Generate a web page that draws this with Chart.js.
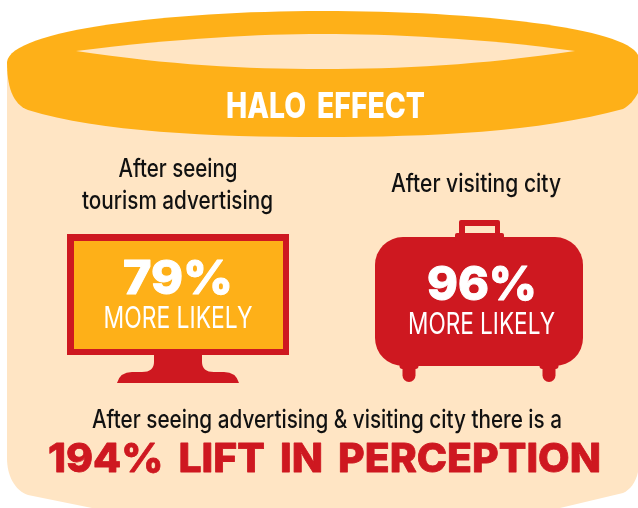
<!DOCTYPE html>
<html>
<head>
<meta charset="utf-8">
<title>Halo effect</title>
<script src="https://cdn.jsdelivr.net/npm/chart.js@4"></script>
<style>
  html, body { margin: 0; padding: 0; background: #fff; }
  canvas { display: block; }
</style>
</head>
<body>
<canvas id="chart" width="638" height="508"></canvas>
<script>
// data
var categories = [
  ["After seeing", "tourism advertising"],
  ["After visiting city"]
];
var likelyValues = [79, 96];
var likelyLabel = "MORE LIKELY";
var liftValue = 194;
var liftLabel = "LIFT IN PERCEPTION";
var chartTitle = "HALO EFFECT";
var footerLine = "After seeing advertising & visiting city there is a";

var ORANGE = '#feb018';
var PEACH = '#ffe5c4';
var RED = '#ce1820';

var BODY_FONT = 'Inter, "Liberation Sans"';

// Draw text so that it fills exactly the given width (the original face is condensed).
// bold > 0 thickens the letters with an outline of that width.
function fitText(ctx, text, cx, baseline, width, font, color, bold, wordGap) {
  ctx.save();
  ctx.font = font;
  ctx.fillStyle = color;
  ctx.textAlign = 'center';
  ctx.textBaseline = 'alphabetic';
  if (wordGap) ctx.wordSpacing = wordGap + 'px';
  var w = ctx.measureText(text).width;
  ctx.translate(cx, baseline);
  ctx.scale(width / w, 1);
  ctx.fillText(text, 0, 0);
  if (bold) {
    ctx.strokeStyle = color;
    ctx.lineWidth = bold;
    ctx.lineJoin = 'round';
    ctx.strokeText(text, 0, 0);
  }
  ctx.restore();
}

function drawBackdrop(ctx) {
  // peach body
  ctx.fillStyle = PEACH;
  ctx.beginPath();
  ctx.moveTo(7, 70);
  ctx.lineTo(638, 70);
  ctx.lineTo(638, 472);
  ctx.bezierCurveTo(636, 482, 630, 490, 623, 493);
  ctx.lineTo(560, 508);
  ctx.lineTo(92, 508);
  ctx.lineTo(28, 495);
  ctx.bezierCurveTo(14, 490, 7, 475, 7, 458);
  ctx.closePath();
  ctx.fill();

  // the halo ring
  ctx.fillStyle = ORANGE;
  ctx.beginPath();
  ctx.moveTo(7, 62);
  ctx.bezierCurveTo(10, 30, 170, 11, 322, 11);
  ctx.bezierCurveTo(480, 11, 625, 28, 638, 55);
  ctx.lineTo(638, 93);
  ctx.bezierCurveTo(634, 100, 630, 105, 623, 109);
  ctx.bezierCurveTo(540, 132, 430, 137, 322, 137);
  ctx.bezierCurveTo(210, 137, 100, 132, 28, 110);
  ctx.bezierCurveTo(12, 104, 7, 85, 7, 62);
  ctx.closePath();
  ctx.fill();

  ctx.fillStyle = PEACH;
  ctx.beginPath();
  ctx.moveTo(76, 51);
  ctx.bezierCurveTo(180, 38, 260, 34, 322, 34);
  ctx.bezierCurveTo(390, 34, 480, 38, 575, 51);
  ctx.bezierCurveTo(480, 65, 400, 69, 322, 69);
  ctx.bezierCurveTo(245, 69, 170, 65, 76, 51);
  ctx.closePath();
  ctx.fill();
}

function drawMonitor(ctx, cx) {
  ctx.save();
  ctx.translate(cx, 0);
  ctx.fillStyle = RED;
  ctx.fillRect(-111, 234, 222, 121);
  // stand
  ctx.beginPath();
  ctx.moveTo(-24, 355);
  ctx.lineTo(-24, 362);
  ctx.quadraticCurveTo(-24, 372, -36, 372);
  ctx.lineTo(-46, 372);
  ctx.quadraticCurveTo(-58, 372, -61, 383);
  ctx.lineTo(61, 383);
  ctx.quadraticCurveTo(58, 372, 46, 372);
  ctx.lineTo(36, 372);
  ctx.quadraticCurveTo(24, 372, 24, 362);
  ctx.lineTo(24, 355);
  ctx.closePath();
  ctx.fill();
  ctx.fillStyle = ORANGE;
  ctx.fillRect(-104, 241, 209, 108);
  ctx.restore();
}

function drawSuitcase(ctx, cx) {
  ctx.save();
  ctx.translate(cx, 0);
  ctx.fillStyle = RED;
  // body
  ctx.beginPath();
  ctx.roundRect(-105, 237, 208, 129, 28);
  ctx.fill();
  // collar and handle
  ctx.beginPath();
  ctx.roundRect(-25, 233, 49, 8, 2);
  ctx.fill();
  ctx.beginPath();
  ctx.roundRect(-21, 220, 41, 16, 2);
  ctx.fill();
  ctx.fillStyle = PEACH;
  ctx.fillRect(-15, 226, 30, 7);
  // wheels
  ctx.fillStyle = RED;
  [-71, 69].forEach(function (dx) {
    ctx.beginPath();
    ctx.roundRect(dx - 9.5, 362, 19, 7, 3);
    ctx.fill();
    ctx.beginPath();
    ctx.roundRect(dx - 6.5, 364, 13, 18, [0, 0, 6.5, 6.5]);
    ctx.fill();
  });
  ctx.restore();
}

var haloPlugin = {
  id: 'halo',
  beforeDatasetsDraw: function (chart) {
    var ctx = chart.ctx;
    var x = chart.scales.x;
    var x0 = x.getPixelForValue(0);
    var x1 = x.getPixelForValue(1);
    var labels = chart.data.labels;
    var values = chart.data.datasets[0].data;

    drawBackdrop(ctx);
    fitText(ctx, chartTitle, 325.5, 118, 199, '800 36px ' + BODY_FONT, '#fff', 0, 6);

    // category captions
    fitText(ctx, labels[0][0], x0, 177, 119, '500 25px ' + BODY_FONT, '#111');
    fitText(ctx, labels[0][1], x0 - 0.5, 209, 191, '500 25px ' + BODY_FONT, '#111');
    fitText(ctx, labels[1][0], 476, 192, 170, '500 25px ' + BODY_FONT, '#111');

    drawMonitor(ctx, x0);
    drawSuitcase(ctx, x1);

    fitText(ctx, values[0] + '%', x0, 294, 110, '800 47px ' + BODY_FONT, '#fff', 1);
    fitText(ctx, likelyLabel, x0, 328, 149, '400 30px ' + BODY_FONT, '#fff');
    fitText(ctx, values[1] + '%', x1 + 2, 300, 110, '800 47px ' + BODY_FONT, '#fff', 1);
    fitText(ctx, likelyLabel, x1 + 1.5, 334, 147, '400 30px ' + BODY_FONT, '#fff');

    fitText(ctx, footerLine, 327, 428, 470, '500 25px ' + BODY_FONT, '#111');
    fitText(ctx, liftValue + '% ' + liftLabel, 324.5, 472, 553, '800 40px ' + BODY_FONT, RED, 0.8, 6);
  }
};

new Chart(document.getElementById('chart'), {
  type: 'bar',
  data: {
    labels: categories,
    datasets: [{ data: likelyValues, backgroundColor: 'rgba(0,0,0,0)' }]
  },
  options: {
    responsive: false,
    animation: false,
    layout: { padding: { left: 27, right: 7, top: 0, bottom: 0 } },
    plugins: { legend: { display: false }, tooltip: { enabled: false } },
    scales: {
      x: { display: false },
      y: { display: false, min: 0, max: 100 }
    }
  },
  plugins: [haloPlugin]
});
</script>
</body>
</html>
